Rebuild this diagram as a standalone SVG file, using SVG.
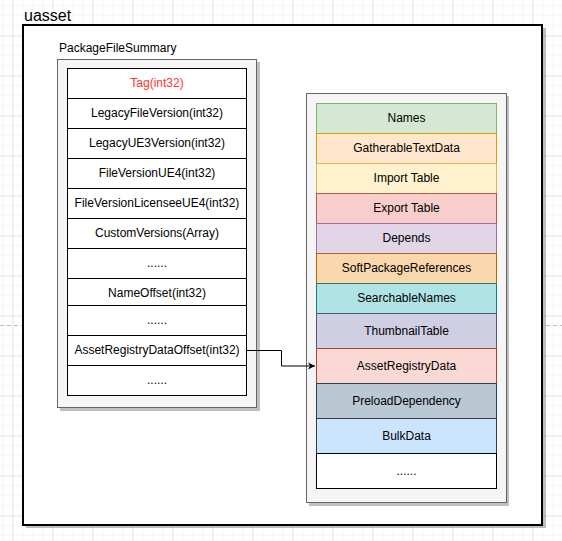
<svg xmlns="http://www.w3.org/2000/svg" width="562" height="541" viewBox="0 0 562 541">
<defs>
<pattern id="grid" patternUnits="userSpaceOnUse" x="12" y="35" width="40" height="40">
<path d="M10 0V40M20 0V40M30 0V40M0 10H40M0 20H40M0 30H40" stroke="#f3f3f3" stroke-width="1" fill="none"/>
<path d="M0.5 0V40M0 0.5H40" stroke="#e2e2e2" stroke-width="1" fill="none"/>
</pattern>
<marker id="arr" markerWidth="8" markerHeight="8" refX="7" refY="4" orient="auto" markerUnits="userSpaceOnUse">
<path d="M0 0.5L7 4L0 7.5L2 4Z" fill="#000"/>
</marker>
</defs>
<style>
text{font-family:"Liberation Sans",Arial,sans-serif;font-size:12px;fill:#000;text-anchor:middle}
.shadow{fill:#000;opacity:0.25}
.box{fill:#f5f5f5;stroke:#666666;stroke-width:1}
.row{fill:#fff;stroke:#000;stroke-width:1}
</style>
<rect width="562" height="541" fill="#fff"/>
<rect x="-0.5" y="-0.5" width="563" height="542" fill="url(#grid)" transform="translate(0.5 0.5)"/>
<path d="M0 325.5H562" stroke="#c0c0c0" stroke-dasharray="4 3" stroke-width="1"/>

<g id="uasset">
<rect class="shadow" x="26" y="28" width="520" height="500"/>
<rect x="23" y="25" width="519" height="500" fill="#fff" stroke="#000" stroke-width="2"/>
<text x="24" y="21" style="font-size:16px;text-anchor:start">uasset</text>
</g>

<g id="PackageFileSummary">
<text x="59" y="52" style="text-anchor:start">PackageFileSummary</text>
<rect class="shadow" x="60" y="62" width="200" height="349"/>
<rect class="box" x="57.5" y="59.5" width="199" height="348"/>
<rect class="row" x="67.5" y="68.5" width="179" height="30"/>
<text x="157" y="87" style="fill:#ff3333">Tag(int32)</text>
<rect class="row" x="67.5" y="98.5" width="179" height="30"/>
<text x="157" y="117">LegacyFileVersion(int32)</text>
<rect class="row" x="67.5" y="128.5" width="179" height="30"/>
<text x="157" y="147">LegacyUE3Version(int32)</text>
<rect class="row" x="67.5" y="158.5" width="179" height="30"/>
<text x="157" y="177">FileVersionUE4(int32)</text>
<rect class="row" x="67.5" y="188.5" width="179" height="30"/>
<text x="157" y="207">FileVersionLicenseeUE4(int32)</text>
<rect class="row" x="67.5" y="218.5" width="179" height="30"/>
<text x="157" y="237">CustomVersions(Array)</text>
<rect class="row" x="67.5" y="248.5" width="179" height="30"/>
<text x="157" y="267">......</text>
<rect class="row" x="67.5" y="278.5" width="179" height="27"/>
<text x="157" y="297">NameOffset(int32)</text>
<rect class="row" x="67.5" y="305.5" width="179" height="30"/>
<text x="157" y="324">......</text>
<rect class="row" x="67.5" y="335.5" width="179" height="30"/>
<text x="157" y="354">AssetRegistryDataOffset(int32)</text>
<rect class="row" x="67.5" y="365.5" width="179" height="30"/>
<text x="157" y="384">......</text>
</g>

<g id="PackageData">
<rect class="shadow" x="309" y="96" width="200" height="410"/>
<rect class="box" x="306.5" y="93.5" width="200" height="409"/>
<rect x="316.5" y="103.5" width="180" height="30" fill="#d5e8d4" stroke="#82b366"/>
<text x="406.5" y="122">Names</text>
<rect x="316.5" y="133.5" width="180" height="30" fill="#ffe6cc" stroke="#d79b00"/>
<text x="406.5" y="152">GatherableTextData</text>
<rect x="316.5" y="163.5" width="180" height="30" fill="#fff2cc" stroke="#d6b656"/>
<text x="406.5" y="182">Import Table</text>
<rect x="316.5" y="193.5" width="180" height="30" fill="#f8cecc" stroke="#b85450"/>
<text x="406.5" y="212">Export Table</text>
<rect x="316.5" y="223.5" width="180" height="30" fill="#e1d5e7" stroke="#9673a6"/>
<text x="406.5" y="242">Depends</text>
<rect x="316.5" y="253.5" width="180" height="30" fill="#fad7ac" stroke="#b46504"/>
<text x="406.5" y="272">SoftPackageReferences</text>
<rect x="316.5" y="283.5" width="180" height="30" fill="#b0e3e6" stroke="#0e8088"/>
<text x="406.5" y="302">SearchableNames</text>
<rect x="316.5" y="313.5" width="180" height="35" fill="#d0cee2" stroke="#56517e"/>
<text x="406.5" y="335">ThumbnailTable</text>
<rect x="316.5" y="348.5" width="180" height="35" fill="#fad9d5" stroke="#ae4132"/>
<text x="406.5" y="370">AssetRegistryData</text>
<rect x="316.5" y="383.5" width="180" height="35" fill="#bac8d3" stroke="#23445d"/>
<text x="406.5" y="405">PreloadDependency</text>
<rect x="316.5" y="418.5" width="180" height="35" fill="#cce5ff" stroke="#36393d"/>
<text x="406.5" y="440">BulkData</text>
<rect x="316.5" y="453.5" width="180" height="35" fill="#ffffff" stroke="#000000"/>
<text x="406.5" y="475">......</text>
</g>

<g id="connectors">
<path d="M247 350.5H281.5V366H315" fill="none" stroke="#000" stroke-width="1" marker-end="url(#arr)"/>
</g>
</svg>
